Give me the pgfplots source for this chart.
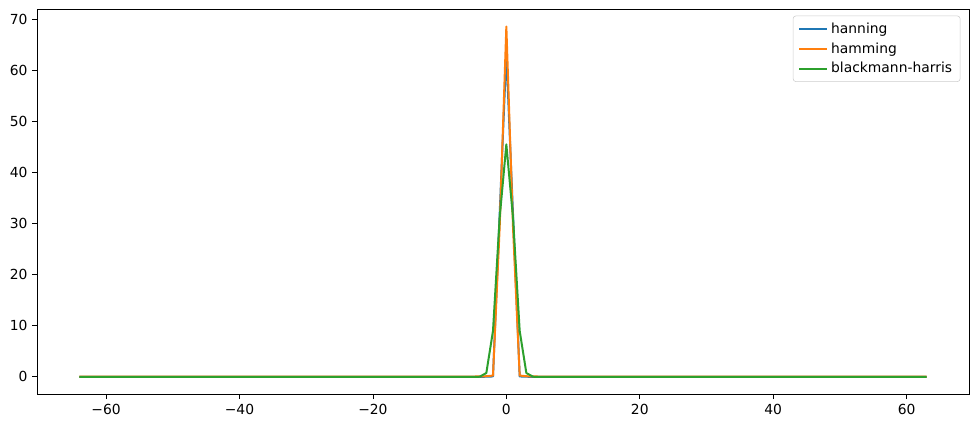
\documentclass[border=0pt]{standalone}
\usepackage{pgfplots}
\usepackage{pgfplotstable}
\pgfplotsset{compat=1.18}
\usepackage{fontspec}
\setmainfont{DejaVu Sans}
\definecolor{c0}{HTML}{1F77B4}
\definecolor{c1}{HTML}{FF7F0E}
\definecolor{c2}{HTML}{2CA02C}
\pgfplotstableread{
x han ham bh
-64 0 0.04 0
-63 0 0.04 0
-62 0 0.04 0
-61 0 0.04 0
-60 0 0.04 0
-59 0 0.04 0
-58 0 0.04 0
-57 0 0.04 0
-56 0 0.04 0
-55 0 0.04 0
-54 0 0.04 0
-53 0 0.04 0
-52 0 0.04 0
-51 0 0.04 0
-50 0 0.04 0
-49 0 0.04 0
-48 0 0.04 0
-47 0 0.04 0
-46 0 0.04 0
-45 0 0.04 0
-44 0 0.04 0
-43 0 0.04 0
-42 0 0.04 0
-41 0 0.04 0
-40 0 0.04 0
-39 0 0.04 0
-38 0 0.04 0
-37 0 0.04 0
-36 0 0.04 0
-35 0 0.04 0
-34 0 0.04 0
-33 0 0.04 0
-32 0 0.04 0
-31 0 0.04 0
-30 0 0.04 0
-29 0 0.04 0
-28 0 0.04 0
-27 0 0.04 0
-26 0 0.04 0
-25 0 0.04 0
-24 0 0.04 0
-23 0 0.04 0
-22 0 0.04 0
-21 0 0.04 0
-20 0 0.04 0
-19 0 0.04 0
-18 0 0.04 0
-17 0 0.04 0
-16 0 0.04 0
-15 0 0.04 0
-14 0 0.04 0
-13 0 0.04 0
-12 0 0.04 0
-11 0 0.04 0
-10 0 0.04 0
-9 0 0.04 0
-8 0 0.04 0
-7 0 0.05 0
-6 0 0.05 0
-5 0 0.06 0
-4 0.01 0.08 0.02
-3 0.02 0.12 0.75
-2 0.08 0.25 9.0
-1 31.9 29.3 31.2
0 63.5 68.66 45.56
1 31.9 29.3 31.2
2 0.08 0.25 9.0
3 0.02 0.12 0.75
4 0.01 0.08 0.02
5 0 0.06 0
6 0 0.05 0
7 0 0.05 0
8 0 0.04 0
9 0 0.04 0
10 0 0.04 0
11 0 0.04 0
12 0 0.04 0
13 0 0.04 0
14 0 0.04 0
15 0 0.04 0
16 0 0.04 0
17 0 0.04 0
18 0 0.04 0
19 0 0.04 0
20 0 0.04 0
21 0 0.04 0
22 0 0.04 0
23 0 0.04 0
24 0 0.04 0
25 0 0.04 0
26 0 0.04 0
27 0 0.04 0
28 0 0.04 0
29 0 0.04 0
30 0 0.04 0
31 0 0.04 0
32 0 0.04 0
33 0 0.04 0
34 0 0.04 0
35 0 0.04 0
36 0 0.04 0
37 0 0.04 0
38 0 0.04 0
39 0 0.04 0
40 0 0.04 0
41 0 0.04 0
42 0 0.04 0
43 0 0.04 0
44 0 0.04 0
45 0 0.04 0
46 0 0.04 0
47 0 0.04 0
48 0 0.04 0
49 0 0.04 0
50 0 0.04 0
51 0 0.04 0
52 0 0.04 0
53 0 0.04 0
54 0 0.04 0
55 0 0.04 0
56 0 0.04 0
57 0 0.04 0
58 0 0.04 0
59 0 0.04 0
60 0 0.04 0
61 0 0.04 0
62 0 0.04 0
63 0 0.04 0
}\datatab
\begin{document}
\begin{tikzpicture}
\begin{axis}[
  scale only axis,
  width=699pt, height=289pt,
  xmin=-70.35, xmax=69.35,
  ymin=-3.43, ymax=72.09,
  xtick={-60,-40,-20,0,20,40,60},
  xticklabels={−60,−40,−20,0,20,40,60},
  ytick={0,10,20,30,40,50,60,70},
  yticklabels={0,10,20,30,40,50,60,70},
  tick align=outside,
  major tick length=3.6pt,
  tick style={black, line width=0.6pt},
  axis line style={black, line width=0.6pt},
  ticklabel style={font=\fontsize{10.4}{12}\selectfont},
  xtick pos=bottom, ytick pos=left,
  clip=false,
  legend style={at={(rel axis cs:1,1)}, anchor=north east, xshift=-6.5pt, yshift=-5pt,
    draw=black!20, rounded corners=2pt, font=\fontsize{10.4}{12}\selectfont,
    row sep=1.5pt, inner xsep=4pt, inner ysep=3pt},
  legend cell align=left,
  legend image code/.code={\draw[#1] (0pt,0pt) -- (21pt,0pt);},
]
\addplot[c0, line width=1.5pt, line join=round] table[x=x, y=han] \datatab;
\addlegendentry{hanning}
\addplot[c1, line width=1.5pt, line join=round] table[x=x, y=ham] \datatab;
\addlegendentry{hamming}
\addplot[c2, line width=1.5pt, line join=round] table[x=x, y=bh] \datatab;
\addlegendentry{blackmann-harris}
\path (rel axis cs:0,0) ++(-27.75pt,-25.5pt) coordinate (bbsw);
\path (rel axis cs:1,1) ++(6pt,6.75pt) coordinate (bbne);
\end{axis}
\useasboundingbox (bbsw) rectangle (bbne);
\end{tikzpicture}
\end{document}
